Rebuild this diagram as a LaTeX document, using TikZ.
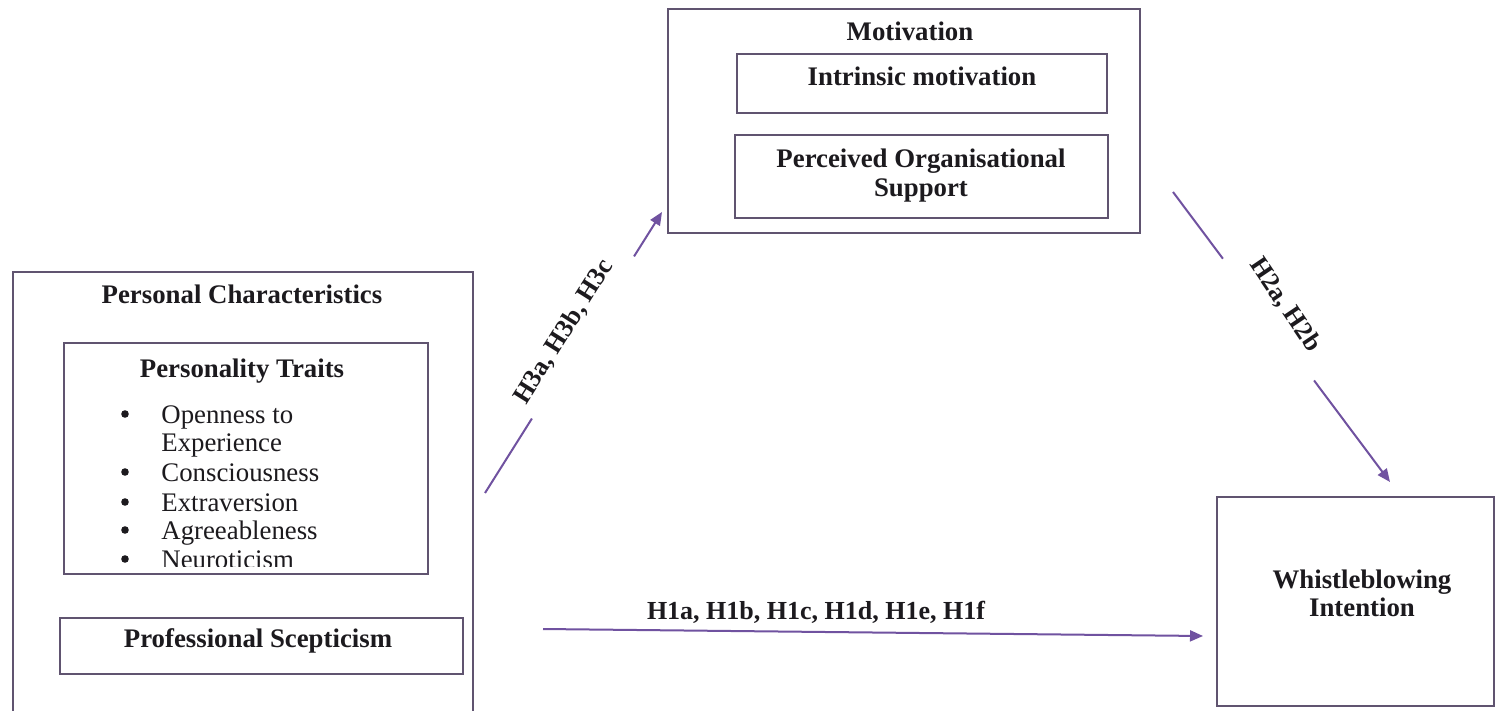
\documentclass[tikz,border=0pt]{standalone}
\usepackage{fontspec}
\setmainfont{Liberation Serif}
\usetikzlibrary{arrows.meta,calc}
\definecolor{boxline}{RGB}{96,84,112}
\definecolor{linkc}{RGB}{112,82,160}
\definecolor{ink}{RGB}{28,26,30}
\begin{document}
\begin{tikzpicture}[x=0.5pt,y=-0.5pt,
  box/.style={draw=boxline, line width=1pt, rectangle, inner sep=0pt},
  head/.style={font=\bfseries\fontsize{13.4}{16}\selectfont, text=ink, inner sep=0pt, anchor=base},
  item/.style={font=\fontsize{13.4}{16}\selectfont, text=ink, inner sep=0pt, anchor=base west},
  bul/.style={circle, fill=ink, inner sep=0pt, minimum size=3.8pt},
  hyp/.style={font=\bfseries\fontsize{13}{16}\selectfont, text=ink, inner sep=0pt},
  link/.style={draw=linkc, line width=1pt},
  tipped/.style={link, -{Triangle[length=6.5pt,width=5.5pt]}}]

\clip (0,0) rectangle (1497,711);
\fill[white] (0,0) rectangle (1497,711);

% ---- Personal characteristics (left block)
\node[box, minimum width=460*0.5pt, minimum height=488*0.5pt] (pc) at (243,516) {};
\node[head] (pctitle) at (242,303) {Personal Characteristics};

\node[box, minimum width=364*0.5pt, minimum height=231*0.5pt] (pt) at (246,458.5) {};
\node[head] (pttitle) at (242,377) {Personality Traits};

\begin{scope}
  \clip (64,343) rectangle (428,566);
  \node[bul]  (b1) at (125,414) {};
  \node[item] (t1) at (161,423) {Openness to};
  \node[item] (t1b) at (161,451) {Experience};
  \node[bul]  (b2) at (125,472) {};
  \node[item] (t2) at (161,481) {Consciousness};
  \node[bul]  (b3) at (125,502) {};
  \node[item] (t3) at (161,511) {Extraversion};
  \node[bul]  (b4) at (125,530) {};
  \node[item] (t4) at (161,539) {Agreeableness};
  \node[bul]  (b5) at (125,559) {};
  \node[item] (t5) at (161,568) {Neuroticism};
\end{scope}

\node[box, minimum width=403*0.5pt, minimum height=56*0.5pt] (ps) at (261.5,646) {};
\node[head] (pstext) at (258,647) {Professional Scepticism};

% ---- Motivation (top block)
\node[box, minimum width=472*0.5pt, minimum height=224*0.5pt] (mot) at (904,121) {};
\node[head] (mottitle) at (910,41) {Motivation};

\node[box, minimum width=370*0.5pt, minimum height=59*0.5pt] (im) at (922,83.5) {};
\node[head] (imtext) at (922,86) {Intrinsic motivation};

\node[box, minimum width=373*0.5pt, minimum height=83*0.5pt] (pos) at (921.5,176.5) {};
\node[head] (postext1) at (921,168) {Perceived Organisational};
\node[head] (postext2) at (921,197) {Support};

% ---- Whistleblowing intention (right block)
\node[box, minimum width=277*0.5pt, minimum height=209*0.5pt] (wi) at (1355.5,601.5) {};
\node[head] (witext1) at (1362,588) {Whistleblowing};
\node[head] (witext2) at (1362,616) {Intention};

% ---- H3: personal characteristics -> motivation
\coordinate (h3s) at (485,493);
\coordinate (h3e) at (662,212);
\draw[link] (h3s) -- ($(h3s)!0.265!(h3e)$);
\draw[tipped] ($(h3s)!0.842!(h3e)$) -- (h3e);
\node[hyp, rotate=57.8] (h3lab) at (564,332) {H3a, H3b, H3c};

% ---- H2: motivation -> whistleblowing intention
\coordinate (h2s) at (1173,192);
\coordinate (h2e) at (1390,482);
\draw[link] (h2s) -- ($(h2s)!0.23!(h2e)$);
\draw[tipped] ($(h2s)!0.65!(h2e)$) -- (h2e);
\node[hyp, rotate=-56] (h2lab) at (1285,305) {H2a, H2b};

% ---- H1: personal characteristics -> whistleblowing intention
\coordinate (h1s) at (543,629);
\coordinate (h1e) at (1203,636);
\draw[tipped] (h1s) -- (h1e);
\node[hyp, anchor=base] (h1lab) at (816,619) {H1a, H1b, H1c, H1d, H1e, H1f};

\end{tikzpicture}
\end{document}
